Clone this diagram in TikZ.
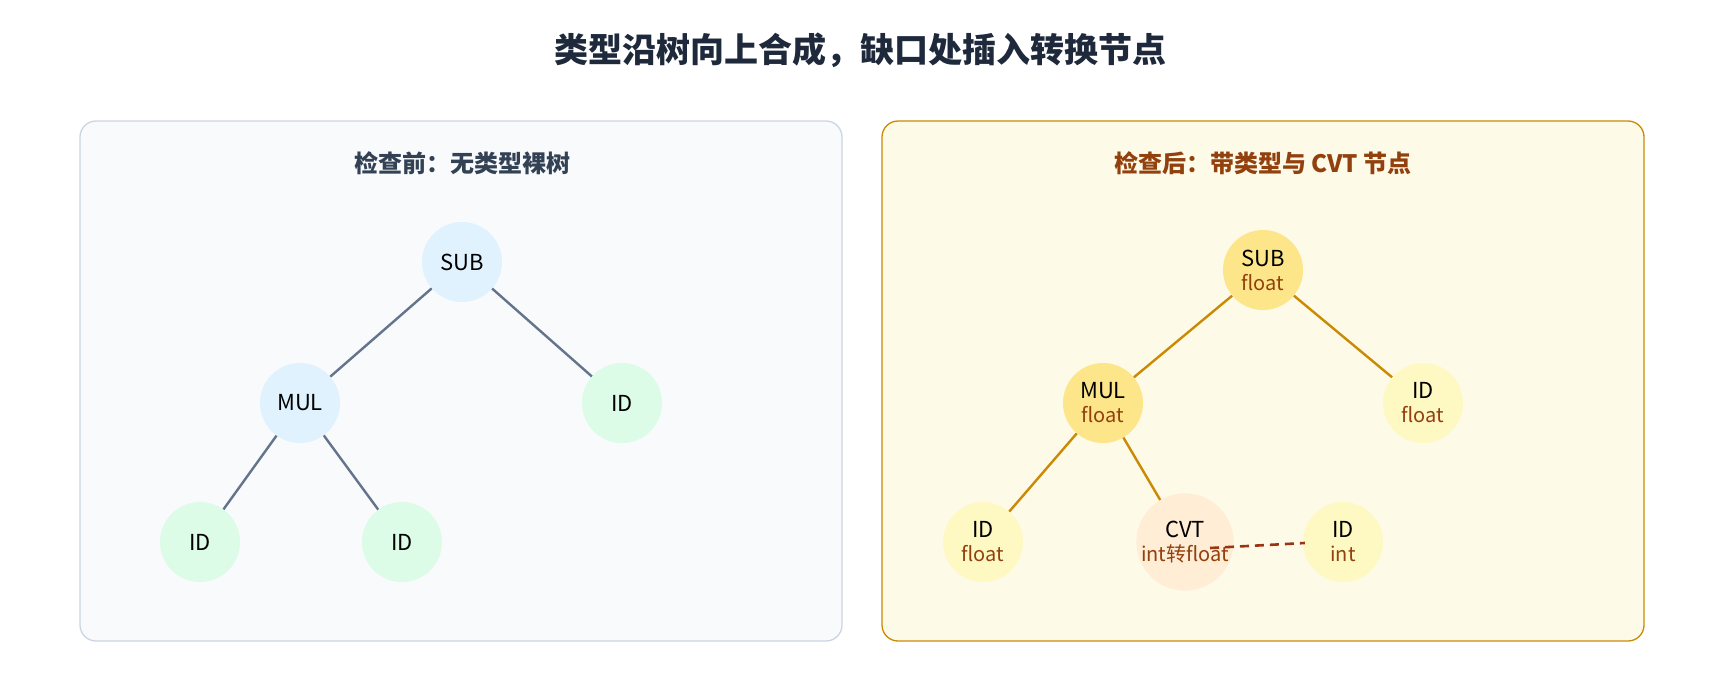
\documentclass[tikz,border=0pt]{standalone}
\usepackage{fontspec}
\setmainfont{Noto Sans CJK SC}
\usetikzlibrary{calc}
\definecolor{inkdark}{HTML}{1E293B}
\definecolor{slate}{HTML}{334155}
\definecolor{edgegray}{HTML}{64748B}
\definecolor{amberdark}{HTML}{CA8A04}
\definecolor{typebrown}{HTML}{92400E}
\definecolor{rust}{HTML}{9A3412}
\definecolor{nblue}{HTML}{E0F2FE}
\definecolor{ngreen}{HTML}{DCFCE7}
\definecolor{nyellow}{HTML}{FEF9C3}
\definecolor{namber}{HTML}{FDE68A}
\definecolor{norange}{HTML}{FFEDD5}
\definecolor{lpanel}{HTML}{F8FAFC}
\definecolor{lborder}{HTML}{CBD5E1}
\definecolor{rpanel}{HTML}{FEFAE8}
\tikzset{
  tnode/.style={circle, minimum size=80pt, inner sep=0pt, align=center, font=\fontsize{22}{26}\selectfont},
  panel/.style={rounded corners=16pt, line width=1.3pt},
  bare/.style={draw=edgegray, line width=2.4pt},
  typed/.style={draw=amberdark, line width=2.4pt},
}
\newcommand{\typ}[1]{\\[-2pt]{\color{typebrown}\fontsize{20}{24}\selectfont #1}}
\begin{document}
\begin{tikzpicture}[x=1pt,y=-1pt]
\useasboundingbox (0,0) rectangle (1720,680);
\node[font=\fontsize{34}{40}\selectfont\bfseries, text=inkdark] (title) at (860,50) {类型沿树向上合成，缺口处插入转换节点};

% left panel
\draw[panel, fill=lpanel, draw=lborder] (80,121) rectangle (842,641);
\node[font=\fontsize{24}{28}\selectfont\bfseries, text=slate] (ltitle) at (462,163) {检查前：无类型裸树};
\node[tnode, fill=nblue] (lsub) at (462,262) {SUB};
\node[tnode, fill=nblue] (lmul) at (300,403) {MUL};
\node[tnode, fill=ngreen] (lid1) at (622,403) {ID};
\node[tnode, fill=ngreen] (lid2) at (200,542) {ID};
\node[tnode, fill=ngreen] (lid3) at (402,542) {ID};
\draw[bare] (lsub) -- (lmul);
\draw[bare] (lsub) -- (lid1);
\draw[bare] (lmul) -- (lid2);
\draw[bare] (lmul) -- (lid3);

% right panel
\draw[panel, fill=rpanel, draw=amberdark] (882,121) rectangle (1644,641);
\node[font=\fontsize{24}{28}\selectfont\bfseries, text=typebrown] (rtitle) at (1263,163) {检查后：带类型与 CVT 节点};
\node[tnode, fill=namber] (rsub) at (1263,270) {SUB\typ{float}};
\node[tnode, fill=namber] (rmul) at (1103,403) {MUL\typ{float}};
\node[tnode, fill=nyellow] (rid1) at (1423,403) {ID\typ{float}};
\node[tnode, fill=nyellow] (rid2) at (983,542) {ID\typ{float}};
\node[tnode, fill=norange] (cvt) at (1185,542) {CVT\typ{int转float}};
\node[tnode, fill=nyellow] (idint) at (1343,542) {ID\typ{int}};
\draw[typed] (rsub) -- (rmul);
\draw[typed] (rsub) -- (rid1);
\draw[typed] (rmul) -- (rid2);
\draw[typed] (rmul) -- (cvt);
\draw[rust, line width=2.6pt, dash pattern=on 9pt off 6pt] ($(cvt)+(25,6)$) -- ($(idint.west)+(2,1)$);
\end{tikzpicture}
\end{document}
